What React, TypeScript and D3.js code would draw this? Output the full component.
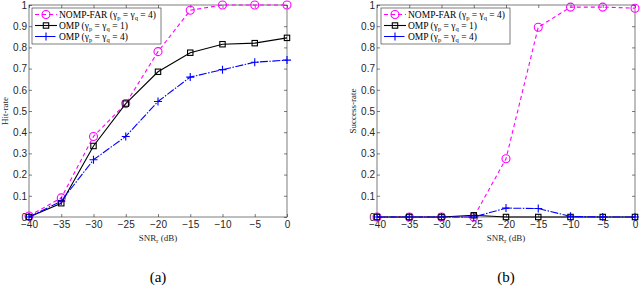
import { useEffect, useRef } from "react";
import * as d3 from "d3";

const snr = [-40, -35, -30, -25, -20, -15, -10, -5, 0];
const yTicks = [0, 0.1, 0.2, 0.3, 0.4, 0.5, 0.6, 0.7, 0.8, 0.9, 1];

// (a) hit-rate
const hitNomp = [0.005, 0.09, 0.38, 0.535, 0.78, 0.975, 1.0, 1.0, 1.0];
const hitOmp1 = [0, 0.065, 0.335, 0.535, 0.685, 0.775, 0.815, 0.82, 0.845];
const hitOmp4 = [0, 0.075, 0.27, 0.38, 0.545, 0.66, 0.695, 0.73, 0.74];

// (b) success-rate
const sucNomp = [0, 0, 0, 0, 0.275, 0.895, 0.99, 0.99, 0.985];
const sucOmp1 = [0, 0, 0, 0.008, 0, 0, 0, 0, 0];
const sucOmp4 = [0, 0, 0, 0, 0.042, 0.04, 0.003, 0, 0];

const seriesStyle = [
  { name: "NOMP-FAR", g: "4", color: "#ff00ff", dash: "4,3", marker: "circle" },
  { name: "OMP", g: "1", color: "#000000", dash: null, marker: "square" },
  { name: "OMP", g: "4", color: "#0000ff", dash: "8,1.5,1.5,1.5", marker: "plus" },
];

const serif = "'Liberation Serif', 'Times New Roman', serif";
const sans = "'Liberation Sans', Arial, sans-serif";

function drawPanel(svg, opts) {
  const { x0, x1, y0, y1, data, ylabel, caption, legendX } = opts;
  const x = d3.scaleLinear().domain([-40, 0]).range([x0, x1]);
  const y = d3.scaleLinear().domain([0, 1]).range([y1, y0]);
  const g = svg.append("g");
  const tickColor = "#262626";

  g.append("rect")
    .attr("x", x0).attr("y", y0)
    .attr("width", x1 - x0).attr("height", y1 - y0)
    .attr("fill", "white").attr("stroke", tickColor).attr("stroke-width", 0.6);

  const ax = g.append("g").attr("transform", `translate(0,${y1})`)
    .call(d3.axisBottom(x).tickValues(snr).tickSize(-3).tickPadding(4).tickFormat(d3.format("d")));
  ax.select(".domain").remove();
  const axTop = g.append("g").attr("transform", `translate(0,${y0})`)
    .call(d3.axisTop(x).tickValues(snr).tickSize(-3).tickFormat(() => ""));
  axTop.select(".domain").remove();
  const ay = g.append("g").attr("transform", `translate(${x0},0)`)
    .call(d3.axisLeft(y).tickValues(yTicks).tickSize(-3).tickPadding(2)
      .tickFormat((d) => (d === 0 || d === 1 ? String(d) : d3.format(".1f")(d))));
  ay.select(".domain").remove();
  const ayR = g.append("g").attr("transform", `translate(${x1},0)`)
    .call(d3.axisRight(y).tickValues(yTicks).tickSize(-3).tickFormat(() => ""));
  ayR.select(".domain").remove();
  [ax, axTop, ay, ayR].forEach((a) => {
    a.selectAll("line").attr("stroke", tickColor).attr("stroke-width", 0.6);
    a.selectAll("text").attr("fill", tickColor).attr("font-family", sans).attr("font-size", 10);
  });

  const line = d3.line().x((d, i) => x(snr[i])).y((d) => y(d));

  data.forEach((vals, k) => {
    const s = seriesStyle[k];
    g.append("path").datum(vals)
      .attr("d", line).attr("fill", "none")
      .attr("stroke", s.color).attr("stroke-width", 1.1)
      .attr("stroke-dasharray", s.dash);
    vals.forEach((v, i) => drawMarker(g, s, x(snr[i]), y(v)));
  });

  // legend
  const lx = legendX, ly = 8, lw = 129, lh = 36;
  const leg = g.append("g");
  leg.append("rect").attr("x", lx).attr("y", ly).attr("width", lw).attr("height", lh)
    .attr("fill", "white").attr("stroke", tickColor).attr("stroke-width", 0.6);
  seriesStyle.forEach((s, k) => {
    const yy = ly + 6.5 + k * 11;
    leg.append("line").attr("x1", lx + 3).attr("x2", lx + 25).attr("y1", yy).attr("y2", yy)
      .attr("stroke", s.color).attr("stroke-width", 1.1).attr("stroke-dasharray", s.dash);
    drawMarker(leg, s, lx + 14, yy);
    const t = leg.append("text").attr("x", lx + 27).attr("y", yy + 3.5)
      .attr("font-family", serif).attr("font-size", 9.5).attr("fill", "#000");
    t.append("tspan").text(`${s.name} (γ`);
    t.append("tspan").attr("font-size", 6.5).attr("dy", 2).text("p");
    t.append("tspan").attr("dy", -2).text(" = γ");
    t.append("tspan").attr("font-size", 6.5).attr("dy", 2).text("q");
    t.append("tspan").attr("dy", -2).text(` = ${s.g})`);
  });

  // labels
  const xl = g.append("text").attr("x", (x0 + x1) / 2).attr("y", y1 + 24).attr("text-anchor", "middle")
    .attr("font-family", serif).attr("font-size", 9).attr("fill", tickColor);
  xl.append("tspan").text("SNR");
  xl.append("tspan").attr("font-size", 6.5).attr("dy", 2).text("r");
  xl.append("tspan").attr("dy", -2).text(" (dB)");

  g.append("text").attr("transform", `translate(${x0 - 21},${(y0 + y1) / 2}) rotate(-90)`)
    .attr("text-anchor", "middle")
    .attr("font-family", serif).attr("font-size", 9).attr("fill", tickColor)
    .text(ylabel);

  g.append("text").attr("x", (x0 + x1) / 2).attr("y", 282).attr("text-anchor", "middle")
    .attr("font-family", serif).attr("font-size", 15).attr("fill", "#000")
    .text(caption);
}

function drawMarker(g, s, cx, cy) {
  if (s.marker === "circle") {
    g.append("circle").attr("cx", cx).attr("cy", cy).attr("r", 4)
      .attr("fill", "none").attr("stroke", s.color).attr("stroke-width", 1.1);
  } else if (s.marker === "square") {
    g.append("rect").attr("x", cx - 2.7).attr("y", cy - 2.7).attr("width", 5.4).attr("height", 5.4)
      .attr("fill", "none").attr("stroke", s.color).attr("stroke-width", 1.1);
  } else {
    g.append("path").attr("d", `M${cx - 4},${cy}H${cx + 4}M${cx},${cy - 4}V${cy + 4}`)
      .attr("stroke", s.color).attr("stroke-width", 1.1);
  }
}

export default function App() {
  const ref = useRef(null);
  useEffect(() => {
    const svg = d3.select(ref.current);
    svg.selectAll("*").remove();
    drawPanel(svg, {
      x0: 29, x1: 287, y0: 5, y1: 217,
      data: [hitNomp, hitOmp1, hitOmp4], ylabel: "Hit-rate", caption: "(a)", legendX: 32,
    });
    drawPanel(svg, {
      x0: 377, x1: 635, y0: 5, y1: 217,
      data: [sucNomp, sucOmp1, sucOmp4], ylabel: "Success-rate", caption: "(b)", legendX: 381,
    });
  }, []);
  return (
    <svg ref={ref} width={640} height={286}
      style={{ position: "absolute", left: 0, top: 0, background: "white" }} />
  );
}
